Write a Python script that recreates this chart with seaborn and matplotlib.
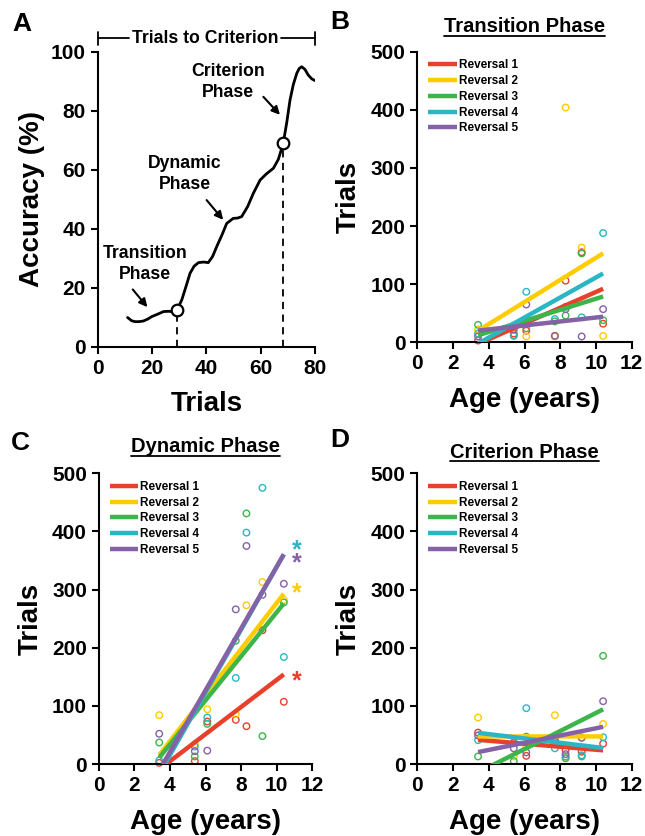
import numpy as np
import pandas as pd
import seaborn as sns
import matplotlib.pyplot as plt
from matplotlib.lines import Line2D

sns.set_style("ticks")
plt.rcParams['font.family'] = ['Liberation Sans', 'DejaVu Sans']
plt.rcParams['font.weight'] = 'bold'
plt.rcParams['axes.labelweight'] = 'bold'
plt.rcParams['text.color'] = 'black'
plt.rcParams['axes.labelcolor'] = 'black'
plt.rcParams['xtick.color'] = 'black'
plt.rcParams['ytick.color'] = 'black'

# ---- data ----
ages = [3.4, 5.4, 6.1, 7.7, 8.3, 9.2, 10.4]
reversals = ['Reversal 1', 'Reversal 2', 'Reversal 3', 'Reversal 4', 'Reversal 5']
colors = ['#E8402A', '#FFCC00', '#3DB54A', '#2BB6C4', '#8561A8']

transition_r1 = [3, 15, 20, 11, 106, 155, 32]
transition_r2 = [22, 27, 10, 10, 404, 163, 11]
transition_r3 = [30, 12, 24, 36, 46, 153, 38]
transition_r4 = [15, 11, 87, 40, 61, 43, 188]
transition_r5 = [10, 22, 65, 11, 57, 10, 57]

dynamic_r1 = [2, 5, 73, 76, 65, 230, 107]
dynamic_r2 = [84, 34, 94, 86, 273, 313, 282]
dynamic_r3 = [37, 13, 69, 212, 431, 48, 278]
dynamic_r4 = [6, 30, 80, 148, 398, 475, 184]
dynamic_r5 = [52, 22, 23, 266, 375, 291, 310]

criterion_r1 = [54, 36, 14, 38, 24, 21, 35]
criterion_r2 = [80, 13, 30, 84, 10, 46, 69]
criterion_r3 = [13, 5, 47, 38, 10, 13, 186]
criterion_r4 = [41, 38, 96, 27, 13, 15, 46]
criterion_r5 = [49, 27, 20, 43, 17, 45, 108]

# significance stars in dynamic phase (reversal index, y position)
star_rev = [3, 4, 1, 0]
star_y = [367, 345, 294, 143]

# schematic learning curve for panel A
curve_trials = [11.0, 12.5, 13.7, 15.2, 16.8, 18.5, 19.9, 22.0, 24.2, 26.0, 27.2, 29.3,
                31.0, 32.1, 34.0, 35.5, 37.1, 39.0, 40.7, 42.3, 43.8, 45.8, 47.5, 49.9,
                51.5, 53.0, 55.2, 57.3, 59.8, 62.0, 64.7, 66.5, 68.3, 69.6, 70.8, 72.0,
                73.3, 74.2, 75.1, 76.3, 77.5, 78.8, 80.0]
curve_acc = [9.9, 8.8, 8.5, 8.5, 8.7, 9.4, 10.2, 11.0, 11.9, 12.0, 11.9, 12.5,
             16.0, 19.2, 24.9, 27.3, 28.5, 28.7, 28.5, 30.6, 33.9, 38.0, 41.8, 43.5,
             43.6, 44.1, 47.5, 52.0, 56.5, 58.5, 60.5, 63.5, 68.9, 76.0, 83.6, 88.8,
             92.7, 94.3, 94.9, 94.0, 92.1, 90.8, 90.2]
phase_points_x = [29.3, 68.3]
phase_points_y = [12.5, 68.9]

phase_labels = ['Transition\nPhase', 'Dynamic\nPhase', 'Criterion\nPhase']
phase_label_xy = [(17.4, 28.0), (32.1, 58.5), (48.1, 89.7)]
arrow_tails = [(12.9, 19.4), (40.1, 49.7), (61.0, 84.7)]
arrow_heads = [(18.3, 13.4), (46.2, 43.0), (67.1, 78.6)]

panels = {
    'Transition Phase': [transition_r1, transition_r2, transition_r3, transition_r4, transition_r5],
    'Dynamic Phase': [dynamic_r1, dynamic_r2, dynamic_r3, dynamic_r4, dynamic_r5],
    'Criterion Phase': [criterion_r1, criterion_r2, criterion_r3, criterion_r4, criterion_r5],
}

W, H = 645, 836
fig = plt.figure(figsize=(W / 100, H / 100), dpi=100)


def px_axes(l, t, r, b):
    return fig.add_axes([l / W, 1 - b / H, (r - l) / W, (b - t) / H])


axA = px_axes(97.7, 51.7, 315, 346.7)
axB = px_axes(417.3, 51.7, 631.7, 342.3)
axC = px_axes(98.7, 473.3, 312.3, 764)
axD = px_axes(417.3, 473.3, 631.7, 764)

tick_fs = 15
label_fs = 20


def style_axis(ax):
    sns.despine(ax=ax)
    for s in ['left', 'bottom']:
        ax.spines[s].set_linewidth(1.5)
        ax.spines[s].set_color('black')
    ax.tick_params(direction='out', length=5, width=1.5, labelsize=tick_fs, colors='black')
    for lab in ax.get_xticklabels() + ax.get_yticklabels():
        lab.set_fontweight('bold')


# ---- panel A ----
sns.lineplot(x=curve_trials, y=curve_acc, ax=axA, color='black', lw=2, sort=False)
for px_, py_ in zip(phase_points_x, phase_points_y):
    axA.plot([px_, px_], [0, py_], ls=(0, (4, 3)), color='black', lw=1.3, zorder=2)
axA.scatter(phase_points_x, phase_points_y, s=70, facecolors='white', edgecolors='black',
            linewidths=1.6, zorder=4, clip_on=False)
axA.set_xlim(0, 80)
axA.set_ylim(0, 100)
axA.set_xticks([0, 20, 40, 60, 80])
axA.set_yticks([0, 20, 40, 60, 80, 100])
axA.set_xlabel('Trials', fontsize=label_fs, fontweight='bold', labelpad=10)
axA.set_ylabel('Accuracy (%)', fontsize=label_fs, fontweight='bold', labelpad=4)
style_axis(axA)

ann_fs = 12.7
for lab, xy in zip(phase_labels, phase_label_xy):
    axA.text(xy[0], xy[1], lab, ha='center', va='center', fontsize=ann_fs,
             fontweight='bold', linespacing=1.25)
for tail, head in zip(arrow_tails, arrow_heads):
    axA.annotate('', xy=head, xytext=tail,
                 arrowprops=dict(arrowstyle='-|>', color='black', lw=1.5, mutation_scale=12,
                                 shrinkA=0, shrinkB=0))

# bracket for "Trials to Criterion"
yb = 104.5
axA.plot([0, 11.5], [yb, yb], color='black', lw=1.3, clip_on=False)
axA.plot([67.5, 80], [yb, yb], color='black', lw=1.3, clip_on=False)
axA.plot([0, 0], [yb - 2.3, yb + 2.3], color='black', lw=1.3, clip_on=False)
axA.plot([80, 80], [yb - 2.3, yb + 2.3], color='black', lw=1.3, clip_on=False)
axA.text(39.5, yb, 'Trials to Criterion', ha='center', va='center', fontsize=ann_fs,
         fontweight='bold')

# ---- panels B, C, D ----
titles = []
title_pads = [14, 15, 11]
for ax, (title, series), pad in zip([axB, axC, axD], panels.items(), title_pads):
    for vals, c in zip(series, colors):
        sns.scatterplot(x=ages, y=vals, ax=ax, s=22, facecolor='none', edgecolor=c,
                        linewidth=1.0, zorder=2, clip_on=False)
    for vals, c, lab in zip(series, colors, reversals):
        sns.regplot(x=ages, y=vals, ax=ax, ci=None, scatter=False, color=c, label=lab,
                    truncate=True, line_kws=dict(lw=3.2, solid_capstyle='butt', zorder=3))
    ax.set_xlim(0, 12)
    ax.set_ylim(0, 500)
    ax.set_xticks(range(0, 13, 2))
    ax.set_yticks(range(0, 501, 100))
    ax.set_xlabel('Age (years)', fontsize=label_fs, fontweight='bold', labelpad=10)
    ax.set_ylabel('Trials', fontsize=label_fs, fontweight='bold', labelpad=6)
    style_axis(ax)
    leg = ax.legend(loc='upper left', bbox_to_anchor=(0.03, 0.99), frameon=False,
                    prop=dict(size=8.5, weight='bold'), handlelength=2.4, handletextpad=0.15,
                    labelspacing=0.32, borderaxespad=0)
    for h in leg.legend_handles:
        h.set_linewidth(3.2)
    titles.append(ax.set_title(title, fontsize=14.5, fontweight='bold', pad=pad))

for ri, sy in zip(star_rev, star_y):
    axC.text(11.15, sy, '*', color=colors[ri], fontsize=18, fontweight='bold',
             ha='center', va='center', clip_on=False)

# panel letters
for lab, x, y in [('A', 22, 24), ('B', 340, 22), ('C', 20, 443), ('D', 340, 440)]:
    fig.text(x / W, 1 - y / H, lab, fontsize=19, fontweight='bold', ha='center', va='center')

# underline the panel titles
fig.canvas.draw()
renderer = fig.canvas.get_renderer()
for t in titles:
    bb = t.get_window_extent(renderer)
    yline = bb.y0 + 1
    fig.add_artist(Line2D([bb.x0 / W, bb.x1 / W], [yline / H - 0.0005, yline / H - 0.0005],
                          color='black', lw=1.3, transform=fig.transFigure))

fig.savefig('out.png', dpi=100)
